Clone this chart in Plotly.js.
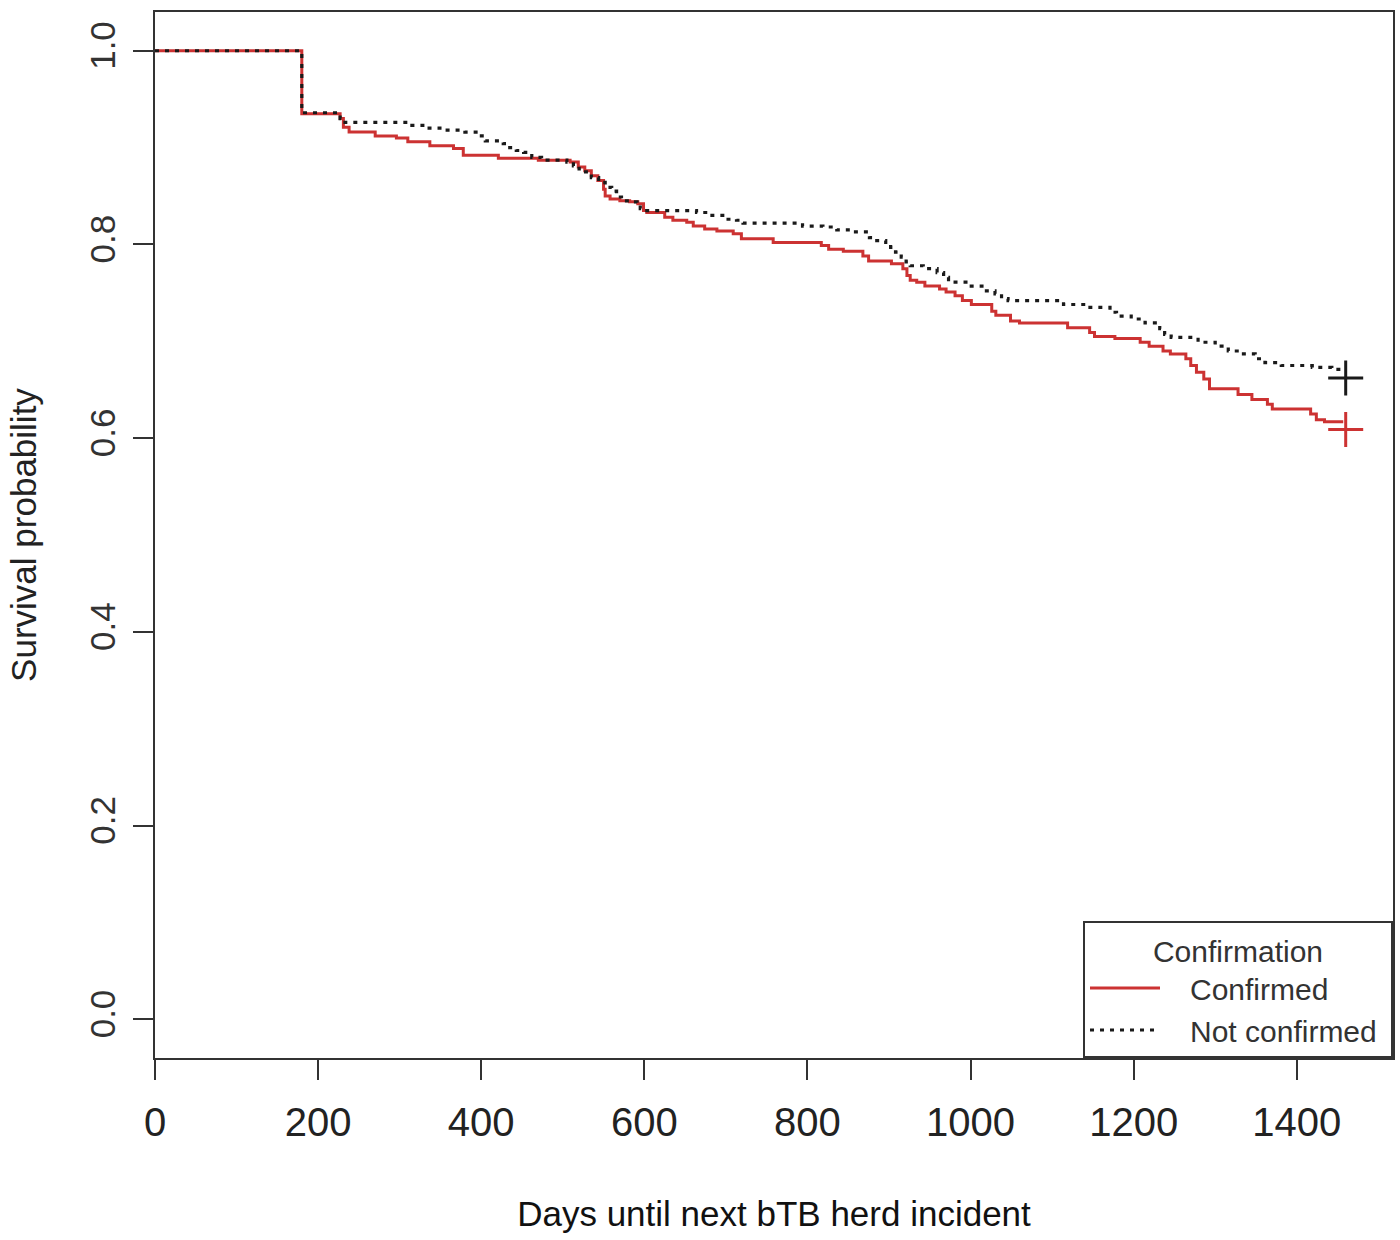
<!DOCTYPE html>
<html>
<head>
<meta charset="utf-8">
<script src="https://cdn.plot.ly/plotly-3.0.1.min.js"></script>
<style>
  html, body { margin: 0; padding: 0; background: #ffffff; }
  #chart { width: 1400px; height: 1240px; }
</style>
</head>
<body>
<div id="chart"></div>
<script>
// Kaplan-Meier step values
const confirmedDays = [0,180,227,231,238,270,296,310,337,366,378,421,470,509,519,527,535,543,550,552,558,570,582,592,599,603,625,635,652,660,674,689,709,719,758,817,826,844,868,875,903,917,922,926,934,944,962,970,981,990,1001,1026,1031,1049,1060,1119,1146,1152,1177,1208,1219,1236,1245,1264,1270,1277,1286,1293,1328,1345,1364,1370,1417,1424,1434,1457];
const confirmedSurv = [1.0,0.935,0.930,0.921,0.916,0.912,0.910,0.906,0.902,0.899,0.892,0.889,0.887,0.885,0.880,0.876,0.871,0.866,0.857,0.850,0.847,0.845,0.844,0.842,0.835,0.833,0.828,0.825,0.823,0.819,0.816,0.814,0.811,0.806,0.802,0.799,0.795,0.793,0.788,0.783,0.780,0.775,0.768,0.763,0.761,0.757,0.754,0.751,0.747,0.742,0.738,0.731,0.727,0.721,0.719,0.714,0.709,0.705,0.703,0.699,0.695,0.690,0.687,0.682,0.675,0.668,0.661,0.651,0.645,0.640,0.635,0.630,0.625,0.619,0.617,0.617];

const notConfDays = [0,180,227,233,315,331,352,380,396,405,427,435,443,452,462,474,505,513,520,528,535,544,552,560,566,572,584,591,595,600,664,680,699,713,721,794,819,836,855,876,883,896,902,908,915,921,926,942,959,967,973,997,1014,1030,1038,1046,1114,1142,1171,1179,1197,1214,1232,1238,1246,1279,1300,1316,1332,1349,1361,1381,1419,1443,1455];
const notConfSurv = [1.0,0.936,0.930,0.926,0.923,0.920,0.918,0.916,0.912,0.907,0.904,0.900,0.897,0.895,0.890,0.887,0.885,0.881,0.878,0.875,0.869,0.864,0.859,0.855,0.849,0.845,0.844,0.842,0.837,0.835,0.833,0.830,0.826,0.825,0.822,0.819,0.818,0.815,0.813,0.807,0.804,0.800,0.797,0.792,0.787,0.782,0.778,0.775,0.771,0.766,0.761,0.757,0.752,0.749,0.744,0.742,0.738,0.735,0.730,0.726,0.723,0.719,0.713,0.707,0.704,0.699,0.695,0.690,0.687,0.682,0.678,0.675,0.673,0.671,0.671];

// censoring marks at end of follow-up
const censorDays = [1460];
const confirmedCensorSurv = [0.609];
const notConfCensorSurv = [0.662];

const xTicks = [0,200,400,600,800,1000,1200,1400];
const yTicks = [0,0.2,0.4,0.6,0.8,1.0];
const yTickText = ['0.0','0.2','0.4','0.6','0.8','1.0'];

const seriesNames = ['Confirmed','Not confirmed'];
const legendTitle = 'Confirmation';
const xTitle = 'Days until next bTB herd incident';
const yTitle = 'Survival probability';

const redCol = 'rgb(204,50,50)';
const blackCol = '#1a1a1a';
const regular = '"Liberation Sans", Arial, sans-serif';
const pad = '\u00a0';

const traces = [
  {
    x: confirmedDays, y: confirmedSurv, type: 'scatter', mode: 'lines',
    name: pad + pad + pad + seriesNames[0] + pad, line: {shape: 'hv', color: redCol, width: 3},
    hoverinfo: 'skip'
  },
  {
    x: notConfDays, y: notConfSurv, type: 'scatter', mode: 'lines',
    name: pad + pad + pad + seriesNames[1] + pad, line: {shape: 'hv', color: blackCol, width: 3.2, dash: '4px,6px'},
    hoverinfo: 'skip'
  },
  {
    x: censorDays, y: confirmedCensorSurv, type: 'scatter', mode: 'markers',
    showlegend: false, hoverinfo: 'skip',
    marker: {symbol: 'cross-thin', size: 25, line: {color: redCol, width: 3}}
  },
  {
    x: censorDays, y: notConfCensorSurv, type: 'scatter', mode: 'markers',
    showlegend: false, hoverinfo: 'skip',
    marker: {symbol: 'cross-thin', size: 25, line: {color: blackCol, width: 3}}
  }
];

const layout = {
  width: 1400, height: 1240,
  margin: {l: 155, r: 7, t: 12, b: 182},
  paper_bgcolor: '#ffffff', plot_bgcolor: '#ffffff',
  showlegend: true,
  xaxis: {
    range: [0, 1518], tickvals: xTicks, ticks: 'outside', ticklen: 20, tickwidth: 2,
    tickcolor: '#333', showline: true, mirror: true, linecolor: '#333', linewidth: 2,
    showgrid: false, zeroline: false, ticklabelstandoff: 8,
    tickfont: {family: regular, size: 40, color: '#222'},
    title: {text: xTitle, font: {family: regular, size: 35, color: '#111'}, standoff: 58}
  },
  yaxis: {
    range: [-0.04, 1.04], tickvals: yTicks, ticktext: yTickText, tickangle: -90,
    ticks: 'outside', ticklen: 20, tickwidth: 2, tickcolor: '#333',
    showline: true, mirror: true, linecolor: '#333', linewidth: 2,
    showgrid: false, zeroline: false, ticklabelstandoff: 4,
    tickfont: {family: regular, size: 35, color: '#333'},
    title: {text: yTitle, font: {family: regular, size: 35, color: '#222'}, standoff: 36}
  },
  legend: {
    title: {text: legendTitle, side: 'top center', font: {family: regular, size: 30, color: '#333'}},
    x: 1, xanchor: 'right', y: 0, yanchor: 'bottom',
    bgcolor: '#ffffff', bordercolor: '#333', borderwidth: 2,
    font: {family: regular, size: 30, color: '#333'},
    itemwidth: 70
  }
};

Plotly.newPlot('chart', traces, layout, {staticPlot: true, displayModeBar: false});
</script>
</body>
</html>
